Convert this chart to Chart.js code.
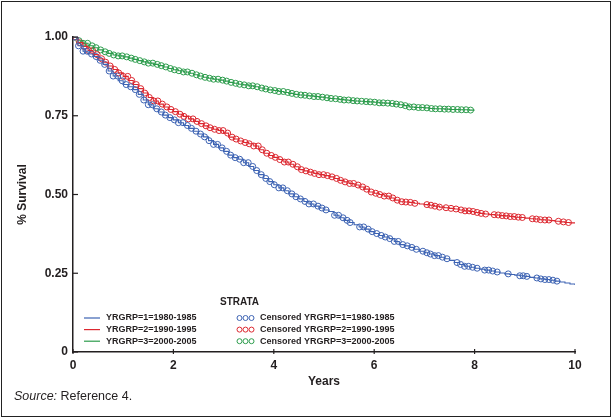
<!DOCTYPE html>
<html>
<head>
<meta charset="utf-8">
<script src="https://cdn.jsdelivr.net/npm/chart.js@4.4.1/dist/chart.umd.min.js"></script>
<style>
  body { margin: 0; background: #fff; }
  #frame { position: absolute; left: 1px; top: 1px; width: 610px; height: 416px; border: 1.5px solid #222; box-sizing: border-box; }
  #c { position: absolute; left: 0; top: 0; }
  #source { position: absolute; left: 14px; top: 389px; font: 12.5px 'Liberation Sans', Arial, sans-serif; color: #231f20; white-space: nowrap; }
</style>
</head>
<body>
<div id="frame"></div>
<canvas id="c" width="613" height="418"></canvas>
<div id="source"><i>Source:</i> Reference 4.</div>
<script>
/* ============================== DATA ============================== */
const years = [0,0.1,0.2,0.3,0.4,0.5,0.6,0.7,0.8,0.9,1,1.1,1.2,1.3,1.4,1.5,1.6,1.7,1.8,1.9,
    2,2.1,2.2,2.3,2.4,2.5,2.6,2.7,2.8,2.9,3,3.1,3.2,3.3,3.4,3.5,3.6,3.7,3.8,3.9,
    4,4.1,4.2,4.3,4.4,4.5,4.6,4.7,4.8,4.9,5,5.1,5.2,5.3,5.4,5.5,5.6,5.7,5.8,5.9,
    6,6.1,6.2,6.3,6.4,6.5,6.6,6.7,6.8,6.9,7,7.1,7.2,7.3,7.4,7.5,7.6,7.7,7.8,7.9,
    8,8.1,8.2,8.3,8.4,8.5,8.6,8.7,8.8,8.9,9,9.1,9.2,9.3,9.4,9.5,9.6,9.7,9.8,9.9,10];

// Kaplan-Meier survival per strata, read at each entry of years
const blueSurvival = [1.000,0.972,0.955,0.946,0.938,0.926,0.913,0.892,0.876,0.861,
    0.849,0.842,0.833,0.818,0.800,0.785,0.772,0.762,0.752,0.744,
    0.737,0.728,0.719,0.710,0.701,0.692,0.683,0.671,0.659,0.648,
    0.637,0.625,0.617,0.612,0.601,0.589,0.576,0.563,0.551,0.541,
    0.531,0.521,0.512,0.502,0.493,0.486,0.478,0.470,0.463,0.457,
    0.451,0.446,0.434,0.426,0.418,0.411,0.404,0.397,0.390,0.382,
    0.376,0.370,0.365,0.360,0.351,0.341,0.337,0.332,0.326,0.320,
    0.315,0.311,0.306,0.301,0.296,0.291,0.284,0.278,0.272,0.269,
    0.266,0.263,0.260,0.257,0.254,0.251,0.248,0.246,0.244,0.242,
    0.240,0.237,0.235,0.232,0.230,0.228,0.225,0.222,0.219,0.216,0.213];
const redSurvival = [1.000,0.982,0.970,0.957,0.944,0.931,0.920,0.908,0.897,0.886,
    0.875,0.862,0.849,0.836,0.822,0.808,0.797,0.787,0.778,0.770,
    0.763,0.755,0.748,0.740,0.732,0.725,0.718,0.712,0.707,0.703,
    0.695,0.682,0.676,0.670,0.665,0.661,0.654,0.642,0.631,0.624,
    0.618,0.611,0.603,0.596,0.588,0.579,0.575,0.571,0.567,0.563,
    0.560,0.556,0.551,0.545,0.540,0.535,0.530,0.524,0.517,0.508,
    0.504,0.500,0.495,0.489,0.482,0.477,0.476,0.475,0.472,0.470,
    0.468,0.466,0.463,0.460,0.458,0.456,0.454,0.451,0.448,0.446,
    0.443,0.440,0.438,0.436,0.435,0.433,0.432,0.430,0.428,0.427,
    0.425,0.423,0.422,0.420,0.419,0.417,0.415,0.413,0.411,0.410,0.409];
const greenSurvival = [1.000,0.988,0.980,0.972,0.966,0.959,0.953,0.948,0.943,0.940,
    0.937,0.933,0.929,0.925,0.921,0.917,0.913,0.909,0.905,0.900,
    0.896,0.893,0.889,0.885,0.880,0.876,0.872,0.869,0.866,0.863,
    0.860,0.856,0.853,0.850,0.848,0.845,0.842,0.838,0.835,0.832,
    0.830,0.827,0.824,0.821,0.818,0.816,0.815,0.813,0.811,0.809,
    0.807,0.805,0.804,0.802,0.800,0.798,0.797,0.796,0.795,0.794,
    0.793,0.791,0.790,0.789,0.787,0.785,0.782,0.778,0.776,0.776,
    0.775,0.773,0.772,0.772,0.771,0.770,0.770,0.769,0.769,0.768,0.768];

// censoring times (years)
const blueCensored = [0.03,0.11,0.2,0.28,0.37,0.46,0.54,0.63,0.72,0.8,0.89,0.98,1.06,1.15,1.24,1.32,
    1.41,1.5,1.58,1.67,1.76,1.84,1.93,2.02,2.1,2.19,2.28,2.36,2.45,2.54,2.62,2.71,2.8,2.88,2.97,
    3.06,3.14,3.23,3.32,3.4,3.49,3.58,3.66,3.75,3.84,3.92,4.01,4.1,4.18,4.27,4.36,4.44,4.53,4.62,
    4.7,4.79,4.88,4.96,5.04,5.21,5.29,5.38,5.46,5.52,5.71,5.79,5.88,5.96,6.05,6.14,6.22,6.31,6.4,
    6.48,6.57,6.66,6.75,6.84,6.97,7.05,7.12,7.2,7.28,7.36,7.45,7.65,7.72,7.8,7.88,7.96,8.05,
    8.2,8.28,8.36,8.45,8.67,8.9,8.97,9.04,9.24,9.32,9.4,9.48,9.56,9.64];
const redCensored = [0.05,0.13,0.22,0.31,0.39,0.48,0.57,0.65,0.74,0.83,0.91,1.0,1.09,1.17,1.26,1.35,
    1.43,1.52,1.61,1.69,1.78,1.87,1.95,2.04,2.13,2.21,2.3,2.39,2.47,2.56,2.65,2.73,2.82,2.91,2.99,
    3.08,3.17,3.25,3.34,3.43,3.51,3.6,3.69,3.77,3.86,3.95,4.03,4.12,4.21,4.29,4.38,4.47,4.55,4.64,
    4.73,4.81,4.9,4.99,5.07,5.16,5.25,5.33,5.42,5.51,5.59,5.68,5.77,5.85,5.94,6.03,6.11,6.2,6.29,
    6.37,6.46,6.55,6.63,6.72,6.81,7.05,7.13,7.21,7.3,7.43,7.53,7.63,7.73,7.81,7.89,7.97,8.05,
    8.13,8.22,8.39,8.47,8.55,8.63,8.71,8.79,8.87,8.95,9.15,9.23,9.31,9.4,9.48,9.67,9.77,9.87];
const greenCensored = [0.03,0.12,0.2,0.29,0.38,0.46,0.55,0.64,0.72,0.81,0.9,0.98,1.07,1.16,1.24,1.33,
    1.42,1.5,1.59,1.68,1.76,1.85,1.94,2.02,2.11,2.2,2.28,2.37,2.46,2.54,2.63,2.72,2.8,2.89,2.98,
    3.06,3.15,3.24,3.32,3.41,3.5,3.58,3.67,3.76,3.84,3.93,4.02,4.1,4.19,4.28,4.36,4.45,4.54,4.62,
    4.71,4.8,4.88,4.97,5.06,5.14,5.23,5.32,5.4,5.49,5.58,5.66,5.75,5.84,5.92,6.01,6.1,6.18,6.27,
    6.36,6.44,6.53,6.62,6.7,6.79,6.88,6.96,7.05,7.14,7.22,7.31,7.4,7.48,7.57,7.66,7.74,7.83,7.92];

const strataLabels = ['YRGRP=1=1980-1985', 'YRGRP=2=1990-1995', 'YRGRP=3=2000-2005'];
const xTicks = [0, 2, 4, 6, 8, 10];
const yTicks = [0, 0.25, 0.5, 0.75, 1];
const yTickLabels = ['0', '0.25', '0.50', '0.75', '1.00'];

const strataColors = ['#3d63b3', '#dc2830', '#2c9c4c'];
const INK = '#231f20';
const FONT = "'Liberation Sans', Arial, sans-serif";


/* ============================== HELPERS ============================== */
function curvePoints(surv) {
    return surv.map((s, i) => ({ x: years[i], y: s }));
}

// a censored mark sits on the step curve at its time
function censorPoints(times, surv) {
    return times.map(t => {
        let i = 0;
        while (i + 1 < surv.length && years[i + 1] <= t) i++;
        return { x: t, y: surv[i] };
    });
}


/* ============================== PLUGIN ============================== */
const decorPlugin = {
    id: 'decorPlugin',
    afterDraw(chart) {
        const { ctx, scales: { x, y } } = chart;
        ctx.save();

        // inward tick marks
        ctx.strokeStyle = INK;
        ctx.lineWidth = 1.2;
        yTicks.forEach(v => {
            const py = y.getPixelForValue(v);
            ctx.beginPath();
            ctx.moveTo(x.left, py);
            ctx.lineTo(x.left + 5, py);
            ctx.stroke();
        });
        xTicks.forEach(v => {
            const px = x.getPixelForValue(v);
            ctx.beginPath();
            ctx.moveTo(px, y.bottom + 2);
            ctx.lineTo(px, y.bottom - 3);
            ctx.stroke();
        });

        // legend
        ctx.fillStyle = INK;
        ctx.textBaseline = 'middle';
        ctx.font = 'bold 10px ' + FONT;
        ctx.fillText('STRATA', 220, 302.5);
        ctx.font = 'bold 9px ' + FONT;
        strataLabels.forEach((label, i) => {
            const ry = 318 + i * 11.6;
            ctx.strokeStyle = strataColors[i];
            ctx.lineWidth = 1.2;
            ctx.beginPath();
            ctx.moveTo(84, ry);
            ctx.lineTo(100, ry);
            ctx.stroke();
            ctx.fillText(label, 106, ry);

            ctx.lineWidth = 1;
            for (let k = 0; k < 3; k++) {
                ctx.beginPath();
                ctx.arc(239.5 + k * 6, ry, 2.5, 0, 2 * Math.PI);
                ctx.stroke();
            }
            ctx.fillText('Censored ' + label, 260, ry);
        });

        ctx.restore();
    }
};


/* ============================== CHART ============================== */
Chart.defaults.font.family = FONT;
Chart.defaults.color = INK;

const survivals = [blueSurvival, redSurvival, greenSurvival];
const censored = [blueCensored, redCensored, greenCensored];

const datasets = [];
survivals.forEach((surv, i) => {
    datasets.push({
        type: 'line',
        data: curvePoints(surv),
        borderColor: strataColors[i],
        borderWidth: 1.1,
        stepped: true,
        pointRadius: 0,
        fill: false
    });
});
censored.forEach((times, i) => {
    datasets.push({
        type: 'scatter',
        data: censorPoints(times, survivals[i]),
        borderColor: strataColors[i],
        backgroundColor: 'rgba(0,0,0,0)',
        borderWidth: 1,
        pointRadius: 3,
        pointStyle: 'circle'
    });
});

new Chart(document.getElementById('c'), {
    type: 'scatter',
    data: { datasets },
    options: {
        responsive: false,
        animation: false,
        layout: { padding: { left: 0, top: 37, right: 38, bottom: 0 } },
        plugins: {
            legend: { display: false },
            tooltip: { enabled: false }
        },
        scales: {
            x: {
                type: 'linear',
                min: 0,
                max: 10,
                afterFit: scale => { scale.height = 66; },
                afterBuildTicks: scale => { scale.ticks = xTicks.map(v => ({ value: v })); },
                grid: { display: false, drawTicks: false },
                border: { display: true, color: INK, width: 1.5 },
                ticks: {
                    padding: 6,
                    font: { size: 12, weight: 'bold' },
                    callback: v => String(v)
                },
                title: {
                    display: true,
                    text: 'Years',
                    font: { size: 12, weight: 'bold' },
                    padding: { top: 0, bottom: 29 }
                }
            },
            y: {
                min: 0,
                max: 1,
                afterFit: scale => { scale.width = 73; },
                afterBuildTicks: scale => { scale.ticks = yTicks.map(v => ({ value: v })); },
                grid: { display: false, drawTicks: false },
                border: { display: true, color: INK, width: 1.5 },
                ticks: {
                    padding: 5,
                    font: { size: 12, weight: 'bold' },
                    callback: v => yTickLabels[yTicks.indexOf(v)]
                },
                title: {
                    display: true,
                    text: '% Survival',
                    font: { size: 12, weight: 'bold' },
                    padding: { top: 15, bottom: 0 }
                }
            }
        }
    },
    plugins: [decorPlugin]
});
</script>
</body>
</html>
